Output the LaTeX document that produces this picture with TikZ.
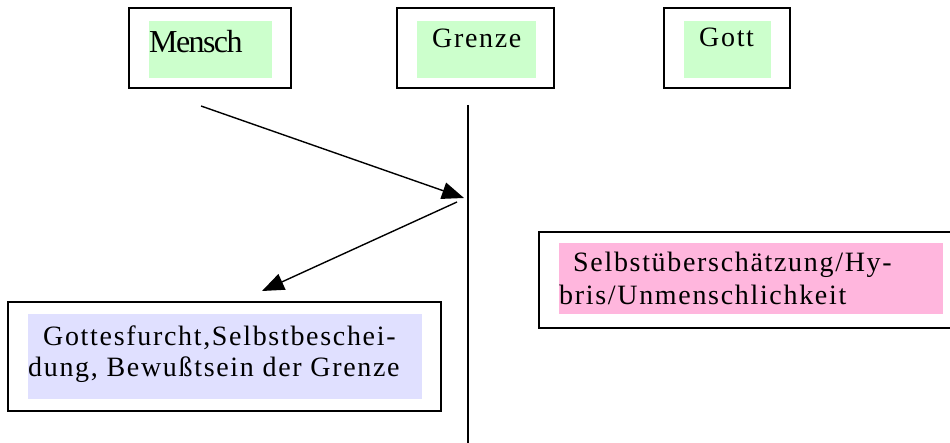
\documentclass[tikz,border=0pt]{standalone}
\usepackage{fontspec}
\setmainfont{Liberation Serif}
\newfontfamily\spaced[LetterSpace=6]{Liberation Serif}
\newfontfamily\tight[LetterSpace=-5]{Liberation Serif}
\usetikzlibrary{arrows.meta}
\definecolor{mint}{HTML}{CCFFCC}
\definecolor{lav}{HTML}{E0E0FF}
\definecolor{rosa}{HTML}{FFB6DD}
\tikzset{
  frame/.style={draw=black, line width=1.6pt, inner sep=0pt, fill=white},
  bg/.style={draw=none, inner sep=0pt},
  txt/.style={inner sep=0pt, anchor=base west, font=\spaced\fontsize{28}{31}\selectfont},
  conn/.style={line width=1.4pt, -{Triangle[length=22pt,width=17pt]}},
}
\begin{document}
\begin{tikzpicture}[x=1pt,y=-1pt]
\useasboundingbox (0,0) rectangle (950,443);
% top boxes
\node[frame, minimum width=162pt, minimum height=80pt] (mensch) at (210,48) {};
\node[bg, fill=mint, minimum width=123pt, minimum height=57pt] (menschbg) at (210.5,49.5) {};
\node[txt, font=\tight\fontsize{32}{32}\selectfont] (menscht) at (149,53) {Mensch};

\node[frame, minimum width=157pt, minimum height=80pt] (grenze) at (475.5,48) {};
\node[bg, fill=mint, minimum width=119pt, minimum height=57pt] (grenzebg) at (476.5,49.5) {};
\node[txt] (grenzet) at (432,48) {Grenze};

\node[frame, minimum width=126pt, minimum height=80pt] (gott) at (727,48) {};
\node[bg, fill=mint, minimum width=87pt, minimum height=57pt] (gottbg) at (727.5,49.5) {};
\node[txt] (gottt) at (699,47) {Gott};

% bottom-left box
\node[frame, minimum width=433pt, minimum height=109pt] (demut) at (224.5,356.5) {};
\node[bg, fill=lav, minimum width=394pt, minimum height=85pt] (demutbg) at (225,356.5) {};
\node[txt] (demut1) at (43,345) {Gottesfurcht,Selbstbeschei-};
\node[txt] (demut2) at (28,376) {dung, Bewußtsein der Grenze};

% right box
\node[frame, minimum width=421pt, minimum height=96pt] (hybris) at (749.5,280) {};
\node[bg, fill=rosa, minimum width=384pt, minimum height=71pt] (hybrisbg) at (751,278.5) {};
\node[txt] (hybris1) at (573,272) {Selbstüberschätzung/Hy-};
\node[txt] (hybris2) at (559,305) {bris/Unmenschlichkeit};

% boundary line
\coordinate (ltop) at (468,105);
\coordinate (lbot) at (468,445);
\draw[line width=1.6pt] (ltop) -- (lbot);

% arrows
\coordinate (a1s) at (201,106);
\coordinate (a1e) at (464,198);
\coordinate (a2s) at (457,202);
\coordinate (a2e) at (262,291);
\draw[conn] (a1s) -- (a1e);
\draw[conn] (a2s) -- (a2e);
\end{tikzpicture}
\end{document}
